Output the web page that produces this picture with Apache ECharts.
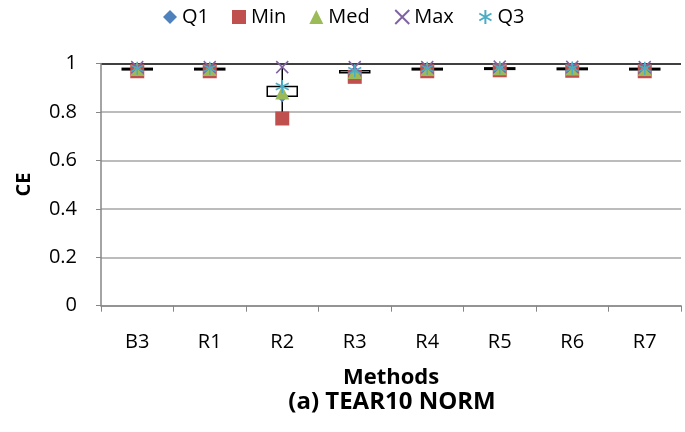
<!DOCTYPE html>
<html>
<head>
<meta charset="utf-8">
<script src="https://cdn.jsdelivr.net/npm/echarts@6/dist/echarts.min.js"></script>
<style>
  html, body { margin: 0; padding: 0; background: #fff; }
  #chart { width: 685px; height: 432px; }
</style>
</head>
<body>
<div id="chart"></div>
<script>
// Methods on the x axis
const methods = ['B3', 'R1', 'R2', 'R3', 'R4', 'R5', 'R6', 'R7'];
// Box statistics of CE per method
const q1Vals  = [0.975, 0.975, 0.865, 0.962, 0.975, 0.978, 0.977, 0.975];
const minVals = [0.968, 0.968, 0.773, 0.945, 0.968, 0.972, 0.970, 0.968];
const medVals = [0.977, 0.977, 0.880, 0.965, 0.977, 0.980, 0.979, 0.977];
const maxVals = [0.985, 0.985, 0.985, 0.985, 0.985, 0.987, 0.986, 0.985];
const q3Vals  = [0.980, 0.980, 0.905, 0.970, 0.980, 0.982, 0.981, 0.980];

const FONT = '"Open Sans", "Liberation Sans", sans-serif';

const boxData = methods.map((m, i) => [i, minVals[i], q1Vals[i], q3Vals[i], maxVals[i]]);

// Whisker from min to max, box from Q1 to Q3
function renderBox(params, api) {
  const x = api.value(0);
  const pMin = api.coord([x, api.value(1)]);
  const pQ1 = api.coord([x, api.value(2)]);
  const pQ3 = api.coord([x, api.value(3)]);
  const pMax = api.coord([x, api.value(4)]);
  const halfW = 15;
  return {
    type: 'group',
    children: [
      { type: 'line', shape: { x1: pMin[0], y1: pMin[1], x2: pMax[0], y2: pMax[1] },
        style: { stroke: '#000', lineWidth: 1.5 } },
      { type: 'rect', shape: { x: pQ1[0] - halfW, y: pQ3[1], width: halfW * 2, height: Math.max(pQ1[1] - pQ3[1], 1.5) },
        style: { fill: '#fff', stroke: '#000', lineWidth: 1.5 } }
    ]
  };
}

const crossPath = 'path://M0,0L10,10M0,10L10,0';
const starPath = 'path://M5,0L5,10M0.67,2.5L9.33,7.5M0.67,7.5L9.33,2.5';

function pts(vals) { return vals.map((v, i) => [i, v]); }

const chart = echarts.init(document.getElementById('chart'), null, { renderer: 'canvas' });
chart.setOption({
  animation: false,
  backgroundColor: '#fff',
  textStyle: { fontFamily: FONT },
  legend: {
    top: 2,
    left: 158,
    itemGap: 23,
    itemWidth: 14,
    itemHeight: 14,
    textStyle: { fontSize: 20, color: '#000', fontFamily: FONT },
    data: ['Q1', 'Min', 'Med', 'Max', 'Q3']
  },
  grid: { left: 101, right: 4, top: 63.5, bottom: 126.3 },
  xAxis: {
    type: 'category',
    data: methods,
    boundaryGap: true,
    axisLine: { lineStyle: { color: '#868686', width: 1.5 } },
    axisTick: { show: true, length: 6, interval: 0, lineStyle: { color: '#868686' } },
    axisLabel: { fontSize: 20, color: '#000', margin: 27, fontFamily: FONT },
    name: 'Methods',
    nameLocation: 'middle',
    nameGap: 61,
    nameTextStyle: { fontSize: 22, fontWeight: 'bold', color: '#000', fontFamily: FONT }
  },
  yAxis: {
    type: 'value',
    min: 0,
    max: 1,
    interval: 0.2,
    axisLine: { show: true, lineStyle: { color: '#868686', width: 1.5 } },
    axisTick: { show: true, length: 5, lineStyle: { color: '#868686' } },
    axisLabel: {
      fontSize: 20, color: '#000', margin: 24, fontFamily: FONT,
      formatter: v => String(+v.toFixed(1))
    },
    splitLine: { show: true, lineStyle: { color: ['#a6a6a6', '#a6a6a6', '#a6a6a6', '#a6a6a6', '#a6a6a6', '#000'], width: 1.5 } },
    name: 'CE',
    nameLocation: 'middle',
    nameRotate: 90,
    nameGap: 67,
    nameTextStyle: { fontSize: 20, fontWeight: 'bold', color: '#000', fontFamily: FONT }
  },
  graphic: [{
    type: 'text',
    x: 392,
    y: 402,
    style: { text: '(a) TEAR10 NORM', fontSize: 24, fontWeight: 'bold', fill: '#000', fontFamily: FONT,
             textAlign: 'center', textVerticalAlign: 'middle' }
  }],
  series: [
    { type: 'custom', name: 'box', renderItem: renderBox, data: boxData, z: 1,
      encode: { x: 0, y: [1, 2, 3, 4] } },
    { type: 'scatter', name: 'Q1', data: pts(q1Vals), symbol: 'diamond', symbolSize: 12, z: 2,
      itemStyle: { color: '#4F81BD', opacity: 1 } },
    { type: 'scatter', name: 'Min', data: pts(minVals), symbol: 'rect', symbolSize: 14, z: 3,
      itemStyle: { color: '#C0504D', opacity: 1 } },
    { type: 'scatter', name: 'Med', data: pts(medVals), symbol: 'triangle', symbolSize: 14, z: 4,
      itemStyle: { color: '#9BBB59', opacity: 1 } },
    { type: 'scatter', name: 'Max', data: pts(maxVals), symbol: crossPath, symbolSize: 12, z: 5,
      itemStyle: { color: 'none', borderColor: '#8064A2', borderWidth: 1.5, opacity: 1 } },
    { type: 'scatter', name: 'Q3', data: pts(q3Vals), symbol: starPath, symbolSize: 13, z: 6,
      itemStyle: { color: 'none', borderColor: '#4BACC6', borderWidth: 1.5, opacity: 1 } }
  ]
});
</script>
</body>
</html>
